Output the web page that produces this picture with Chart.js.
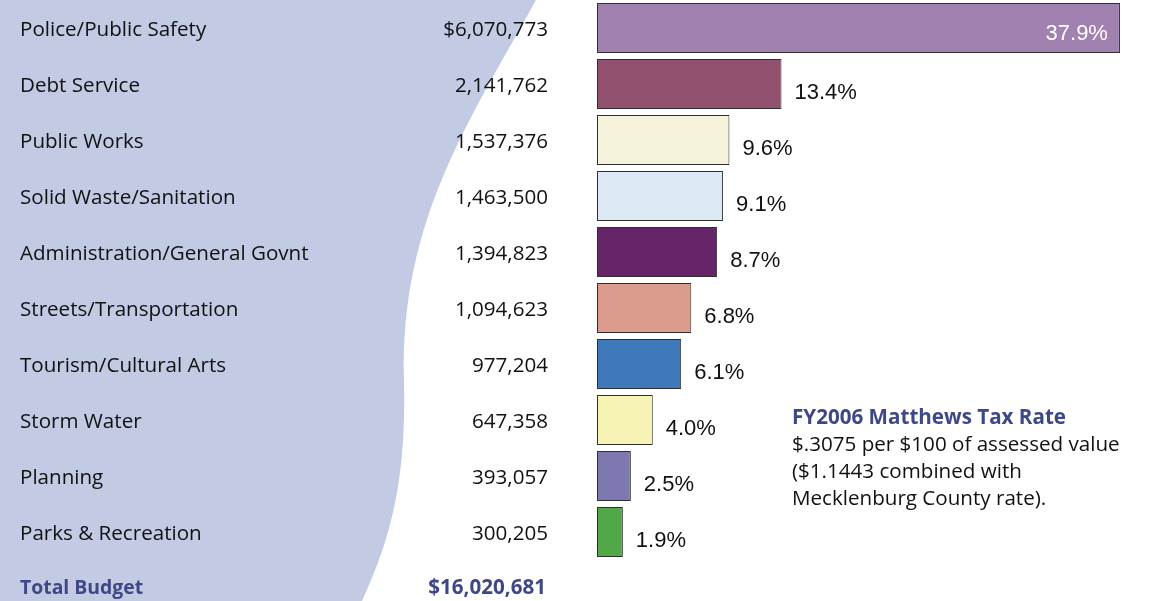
<!DOCTYPE html>
<html>
<head>
<meta charset="utf-8">
<script src="https://cdn.jsdelivr.net/npm/chart.js@4"></script>
<style>
  html, body { margin: 0; padding: 0; background: #fff; }
  #wrap { width: 1153px; height: 601px; position: relative; }
</style>
</head>
<body>
<div id="wrap"><canvas id="budget"></canvas></div>
<script>
// ---- data ----
const categories = [
    'Police/Public Safety', 'Debt Service', 'Public Works', 'Solid Waste/Sanitation',
    'Administration/General Govnt', 'Streets/Transportation', 'Tourism/Cultural Arts',
    'Storm Water', 'Planning', 'Parks & Recreation'
];
const amounts = [6070773, 2141762, 1537376, 1463500, 1394823, 1094623, 977204, 647358, 393057, 300205];
const barColors = [
    '#A081B0', '#92526F', '#F5F3DC', '#DCE8F4', '#662568',
    '#DB9C8E', '#4079BA', '#F7F3B5', '#7E78B0', '#50A848'
];
const totalLabel = 'Total Budget';
const noteTitle = 'FY2006 Matthews Tax Rate';
const noteLines = [
    '$.3075 per $100 of assessed value',
    '($1.1443 combined with',
    'Mecklenburg County rate).'
];

const total = amounts.reduce((s, v) => s + v, 0);
const shares = amounts.map(v => v / total * 100);

const LIST_FONT = '20.6px "Open Sans", sans-serif';
const LIST_BOLD = 'bold 20.6px "Open Sans", sans-serif';
const TOTAL_BOLD = 'bold 19.4px "Open Sans", sans-serif';
const PCT_FONT = '22px "Liberation Sans", Arial, sans-serif';
const BLUE = '#3E4886';

// lavender swoosh behind the list
const backdrop = {
    id: 'backdrop',
    beforeDraw(chart) {
        const ctx = chart.ctx;
        const h = chart.height;
        ctx.save();
        ctx.fillStyle = '#C2CAE4';
        ctx.beginPath();
        ctx.moveTo(0, 0);
        ctx.lineTo(536, 0);
        ctx.bezierCurveTo(470, 120, 400, 220, 404, 380);
        ctx.bezierCurveTo(406, 470, 395, 530, 362, h);
        ctx.lineTo(0, h);
        ctx.closePath();
        ctx.fill();
        ctx.restore();
    }
};

// names, amounts, percent labels, totals and the tax note
const textLayer = {
    id: 'textLayer',
    afterDatasetsDraw(chart) {
        const ctx = chart.ctx;
        const y = chart.scales.y;
        const area = chart.chartArea;
        const meta = chart.getDatasetMeta(0);
        const step = y.getPixelForValue(1) - y.getPixelForValue(0);
        const capShift = 7.5;   // puts cap-height centre on the row centre

        ctx.save();
        ctx.textBaseline = 'alphabetic';

        categories.forEach((name, i) => {
            const cy = y.getPixelForValue(i);
            ctx.font = LIST_FONT;
            ctx.fillStyle = '#111';
            ctx.textAlign = 'left';
            ctx.fillText(name, 20, cy + capShift);
            ctx.textAlign = 'right';
            const amt = amounts[i].toLocaleString('en-US');
            ctx.fillText(i === 0 ? '$' + amt : amt, 548, cy + capShift);

            // percent label
            const bar = meta.data[i];
            const label = shares[i].toFixed(1) + '%';
            ctx.font = PCT_FONT;
            const w = ctx.measureText(label).width;
            if (bar.x + 13 + w > area.right) {
                ctx.fillStyle = '#fff';
                ctx.textAlign = 'right';
                ctx.fillText(label, bar.x - 12, cy + 12);
            } else {
                ctx.fillStyle = '#111';
                ctx.textAlign = 'left';
                ctx.fillText(label, bar.x + 13, cy + 15);
            }
        });

        // total row
        const ty = y.getPixelForValue(categories.length - 1) + step;
        ctx.fillStyle = BLUE;
        ctx.font = TOTAL_BOLD;
        ctx.textAlign = 'left';
        ctx.fillText(totalLabel, 20, ty + 6);
        ctx.font = LIST_BOLD;
        ctx.textAlign = 'right';
        ctx.fillText('$' + total.toLocaleString('en-US'), 546, ty + 6);

        // tax note
        ctx.textAlign = 'left';
        ctx.font = LIST_BOLD;
        ctx.fillStyle = BLUE;
        ctx.fillText(noteTitle, 792, 423.5);
        ctx.font = LIST_FONT;
        ctx.fillStyle = '#111';
        noteLines.forEach((line, k) => ctx.fillText(line, 792, 450.5 + k * 27));

        ctx.restore();
    }
};

new Chart(document.getElementById('budget'), {
    type: 'bar',
    data: {
        labels: categories,
        datasets: [{
            data: shares,
            backgroundColor: barColors,
            borderColor: '#2f2f2f',
            borderWidth: 1,
            borderSkipped: false,
            categoryPercentage: 1,
            barPercentage: 0.89
        }]
    },
    options: {
        indexAxis: 'y',
        responsive: true,
        maintainAspectRatio: false,
        animation: false,
        layout: { padding: { left: 597, right: 4, top: 0, bottom: 41 } },
        plugins: {
            legend: { display: false },
            tooltip: { enabled: false }
        },
        scales: {
            x: { display: false, min: 0, max: 40 },
            y: { display: false }
        }
    },
    plugins: [backdrop, textLayer]
});
</script>
</body>
</html>
